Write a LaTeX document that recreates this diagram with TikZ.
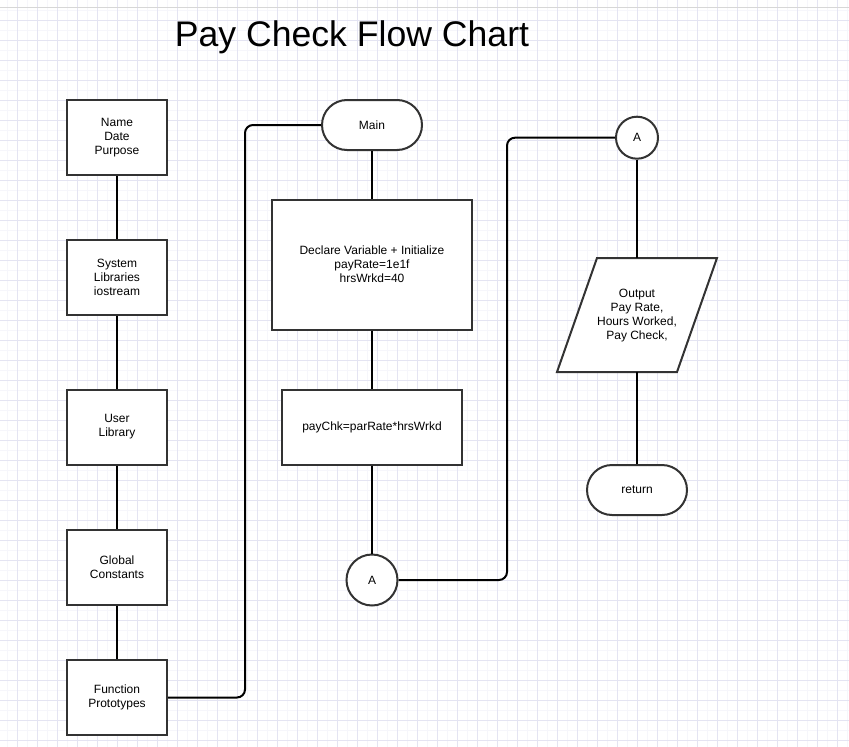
\documentclass[tikz,border=0pt]{standalone}
\usepackage{fontspec}
\setmainfont{Liberation Sans}
\begin{document}
\begin{tikzpicture}[x=1pt,y=-1pt,
  txt/.style={font=\fontsize{12}{14}\selectfont, align=center, text=black},
  box/.style={txt, draw=black!80, line width=2pt, fill=white, inner sep=0pt},
  term/.style={box, minimum width=100pt, minimum height=50pt, rounded corners=25pt},
  conn/.style={box, circle},
  link/.style={draw=black, line width=2pt},
  flow/.style={draw=black, line width=2pt, rounded corners=8pt}]
\useasboundingbox (0,0) rectangle (849,747);
\fill[white] (0,0) rectangle (849,747);
% grid
\foreach \i in {0,...,84} {\draw[color={rgb,255:red,246;green,246;blue,251}, line width=0.5pt] (7.3+\i*10,0) -- (7.3+\i*10,747);}
\foreach \i in {0,...,74} {\draw[color={rgb,255:red,246;green,246;blue,251}, line width=0.5pt] (0,10+\i*10) -- (849,10+\i*10);}
\foreach \i in {0,...,41} {\draw[color={rgb,255:red,228;green,228;blue,242}, line width=0.5pt] (17.3+\i*20,0) -- (17.3+\i*20,747);}
\foreach \i in {1,...,37} {\draw[color={rgb,255:red,228;green,228;blue,242}, line width=0.5pt] (0,\i*20) -- (849,\i*20);}
\draw[color={rgb,255:red,215;green,215;blue,215}, line width=0.8pt] (0,7) -- (849,7);
% title
\node[font=\fontsize{35.6}{40}\selectfont, text=black] (title) at (352,37) {Pay Check Flow Chart};
% left column
\node[box, minimum width=100pt, minimum height=75pt] (b1) at (117,137.5) {Name\\Date\\Purpose};
\node[box, minimum width=100pt, minimum height=75pt] (b2) at (117,277) {System\\Libraries\\iostream};
\node[box, minimum width=100pt, minimum height=75pt] (b3) at (117,427) {User\\Library};
\node[box, minimum width=100pt, minimum height=75pt] (b4) at (117,567) {Global\\Constants};
\node[box, minimum width=100pt, minimum height=75pt] (b5) at (117,697.5) {Function\\Prototypes};
% middle column
\node[term] (main) at (372,125) {Main};
\node[box, minimum width=200pt, minimum height=130pt] (decl) at (372,264.5) {Declare Variable + Initialize\\payRate=1e1f\\hrsWrkd=40};
\node[box, minimum width=180pt, minimum height=75pt] (calc) at (372,427) {payChk=parRate*hrsWrkd};
\node[conn, minimum size=51pt] (a1) at (372,580) {A};
% right column
\node[conn, minimum size=42pt] (a2) at (637,137.7) {A};
\coordinate (ptl) at (597,258);
\coordinate (ptr) at (717,258);
\coordinate (pbr) at (677,372);
\coordinate (pbl) at (557,372);
\coordinate (ptop) at (637,258);
\coordinate (pbot) at (637,372);
\fill[white] (ptl) -- (ptr) -- (pbr) -- (pbl) -- cycle;
\draw[draw=black!80, line width=2pt, line join=miter] (ptl) -- (ptr) -- (pbr) -- (pbl) -- cycle;
\node[txt] (out) at (637,316) {Output\\Pay Rate,\\Hours Worked,\\Pay Check,};
\node[term] (ret) at (637,490) {return};
% connectors
\draw[link] (b1) -- (b2);
\draw[link] (b2) -- (b3);
\draw[link] (b3) -- (b4);
\draw[link] (b4) -- (b5);
\draw[flow] (b5.east) -- (245,697.5) -- (245,125) -- (main.west);
\draw[link] (main) -- (decl);
\draw[link] (decl) -- (calc);
\draw[link] (calc) -- (a1);
\draw[flow] (a1.east) -- (507,580) -- (507,137.7) -- (a2.west);
\draw[link] (a2) -- (ptop);
\draw[link] (pbot) -- (ret);
\end{tikzpicture}
\end{document}
